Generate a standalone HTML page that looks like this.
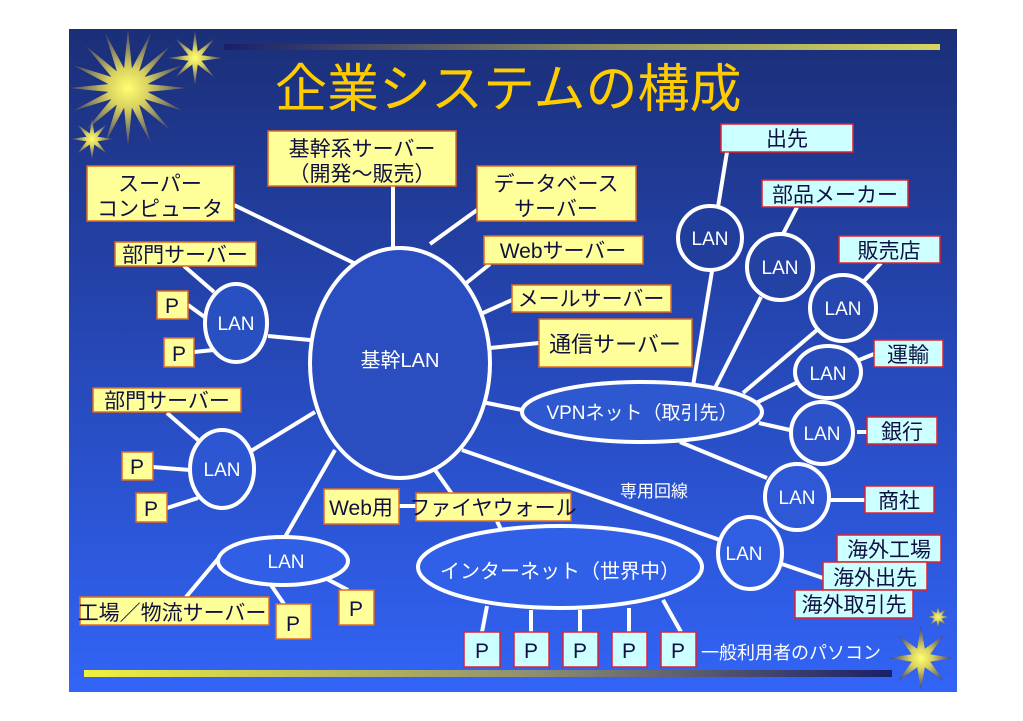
<!DOCTYPE html>
<html><head><meta charset="utf-8"><style>
html,body{margin:0;padding:0;background:#fff;}
svg{display:block;}
text{font-family:"Liberation Sans","Noto Sans CJK JP",sans-serif;}
</style></head><body>
<svg width="1023" height="721" viewBox="0 0 1023 721" xmlns="http://www.w3.org/2000/svg">
<defs>
<linearGradient id="bg" x1="0" y1="0" x2="0" y2="1">
<stop offset="0" stop-color="#1b2f78"/><stop offset="0.5" stop-color="#2648b8"/><stop offset="1" stop-color="#3264f6"/></linearGradient>
<linearGradient id="tb" x1="0" y1="0" x2="1" y2="0">
<stop offset="0" stop-color="#1a1f6a"/><stop offset="0.5" stop-color="#8a8a60"/><stop offset="1" stop-color="#d8d860"/></linearGradient>
<linearGradient id="bb" x1="0" y1="0" x2="1" y2="0">
<stop offset="0" stop-color="#f0f040"/><stop offset="0.55" stop-color="#909070"/><stop offset="1" stop-color="#1a1f6a"/></linearGradient>
<radialGradient id="st"><stop offset="0" stop-color="#ffff70"/><stop offset="0.35" stop-color="#d8d060"/><stop offset="1" stop-color="#3a3a68"/></radialGradient>
</defs>
<rect x="69" y="29" width="888" height="663" fill="url(#bg)"/>
<rect x="224" y="44" width="716" height="6" fill="url(#tb)"/>
<rect x="84" y="670" width="808" height="7" fill="url(#bb)"/>
<g id="stars"></g>
<text x="275" y="107" font-size="52" fill="#ffcc00">企業システムの構成</text>

<g stroke="#fff" stroke-width="4" fill="none">
<line x1="234" y1="205" x2="358" y2="265"/>
<line x1="393" y1="186" x2="393" y2="248"/>
<line x1="477" y1="210" x2="430" y2="244"/>
<line x1="490" y1="264" x2="465" y2="284"/>
<line x1="512" y1="300" x2="483" y2="313"/>
<line x1="539" y1="343" x2="490" y2="348"/>
<line x1="268" y1="336" x2="310" y2="340"/>
<line x1="251" y1="451" x2="315" y2="412"/>
<line x1="482" y1="402" x2="522" y2="410"/>
<line x1="335" y1="450" x2="285" y2="537"/>
<line x1="435" y1="470" x2="452" y2="494"/>
<line x1="462" y1="450" x2="720" y2="540"/>
<line x1="184" y1="266" x2="214" y2="292"/>
<line x1="188" y1="305" x2="206" y2="318"/>
<line x1="194" y1="352" x2="214" y2="350"/>
<line x1="167" y1="413" x2="198" y2="440"/>
<line x1="153" y1="467" x2="190" y2="470"/>
<line x1="167" y1="508" x2="198" y2="498"/>
<line x1="222" y1="554" x2="186" y2="597"/>
<line x1="271" y1="585" x2="284" y2="604"/>
<line x1="325" y1="578" x2="348" y2="590"/>
<line x1="398" y1="506" x2="416" y2="506"/>
<line x1="497" y1="521" x2="504" y2="536"/>
<line x1="487" y1="606" x2="482" y2="632"/>
<line x1="531" y1="610" x2="531" y2="632"/>
<line x1="580" y1="610" x2="580" y2="632"/>
<line x1="629" y1="608" x2="629" y2="632"/>
<line x1="663" y1="600" x2="681" y2="632"/>
<line x1="727" y1="152" x2="718" y2="207"/>
<line x1="712" y1="271" x2="693" y2="386"/>
<line x1="797" y1="207" x2="783" y2="234"/>
<line x1="761" y1="297" x2="715" y2="388"/>
<line x1="881" y1="263" x2="864" y2="281"/>
<line x1="817" y1="330" x2="743" y2="393"/>
<line x1="874" y1="354" x2="859" y2="360"/>
<line x1="796" y1="383" x2="756" y2="403"/>
<line x1="857" y1="432" x2="867" y2="432"/>
<line x1="759" y1="423" x2="790" y2="430"/>
<line x1="680" y1="442" x2="767" y2="478"/>
<line x1="829" y1="500" x2="865" y2="500"/>
<line x1="779" y1="563" x2="823" y2="578"/>
</g>

<g stroke="#fff" stroke-width="4" fill="#2850c0">
<ellipse cx="400" cy="363" rx="90" ry="115" fill="#2a4ec0"/>
<ellipse cx="642" cy="412" rx="120" ry="30" fill="#2e58d0"/>
<ellipse cx="236" cy="323" rx="31" ry="39"/>
<ellipse cx="222" cy="469" rx="32" ry="39" fill="#2d56d2"/>
<ellipse cx="283" cy="561" rx="65" ry="24" fill="#305ee4"/>
<ellipse cx="560" cy="567" rx="142" ry="41" fill="#3060e8"/>
<circle cx="710" cy="238" r="32" fill="#223e9c"/>
<circle cx="780" cy="267" r="33" fill="#2442a4"/>
<circle cx="843" cy="308" r="33" fill="#2646b0"/>
<ellipse cx="828" cy="372" rx="33" ry="26" fill="#284cbc"/>
<circle cx="822" cy="433" r="31" fill="#2b52c8"/>
<ellipse cx="797" cy="497" rx="32" ry="33" fill="#2e58d6"/>
<ellipse cx="750" cy="553" rx="32" ry="36" fill="#305ee2"/>
</g>

<g fill="#fff" font-size="19" text-anchor="middle">
<text x="400" y="367" font-size="20">基幹LAN</text>
<text x="642" y="419">VPNネット（取引先）</text>
<text x="236" y="330">LAN</text>
<text x="222" y="476">LAN</text>
<text x="286" y="568">LAN</text>
<text x="560" y="578" font-size="20">インターネット（世界中）</text>
<text x="710" y="245">LAN</text>
<text x="780" y="274">LAN</text>
<text x="843" y="315">LAN</text>
<text x="828" y="380">LAN</text>
<text x="822" y="440">LAN</text>
<text x="797" y="504">LAN</text>
<text x="744" y="560">LAN</text>
<text x="654" y="497" font-size="17">専用回線</text>
<text x="791" y="659" font-size="18">一般利用者のパソコン</text>
</g>

<g fill="#ffff99" stroke="#e06a20" stroke-width="1.5">
<rect x="268" y="131" width="188" height="55"/>
<rect x="87" y="166" width="147" height="55"/>
<rect x="477" y="166" width="159" height="55"/>
<rect x="484" y="236" width="159" height="28"/>
<rect x="512" y="285" width="159" height="27"/>
<rect x="539" y="319" width="153" height="48"/>
<rect x="115" y="242" width="141" height="24"/>
<rect x="157" y="291" width="31" height="28"/>
<rect x="164" y="338" width="30" height="29"/>
<rect x="93" y="388" width="148" height="24"/>
<rect x="122" y="452" width="31" height="28"/>
<rect x="136" y="493" width="31" height="29"/>
<rect x="80" y="597" width="189" height="28"/>
<rect x="276" y="604" width="35" height="35"/>
<rect x="339" y="590" width="35" height="35"/>
<rect x="324" y="489" width="75" height="35"/>
<rect x="416" y="493" width="155" height="28"/>
</g>
<g fill="#ccffff" stroke="#e02030" stroke-width="1.5">
<rect x="721" y="124" width="132" height="28"/>
<rect x="762" y="180" width="146" height="27"/>
<rect x="839" y="236" width="101" height="27"/>
<rect x="874" y="340" width="69" height="27"/>
<rect x="867" y="417" width="70" height="27"/>
<rect x="865" y="486" width="69" height="27"/>
<rect x="837" y="535" width="104" height="27"/>
<rect x="823" y="562" width="104" height="28"/>
<rect x="795" y="590" width="118" height="28"/>
<rect x="464" y="632" width="36" height="35"/>
<rect x="514" y="632" width="35" height="35"/>
<rect x="563" y="632" width="35" height="35"/>
<rect x="612" y="632" width="35" height="35"/>
<rect x="661" y="632" width="35" height="35"/>
</g>

<g fill="#101040" font-size="21" text-anchor="middle">
<text x="362" y="156">基幹系サーバー</text>
<text x="362" y="181">（開発～販売）</text>
<text x="160" y="191">スーパー</text>
<text x="160" y="216">コンピュータ</text>
<text x="556" y="191">データベース</text>
<text x="556" y="216">サーバー</text>
<text x="563" y="258">Webサーバー</text>
<text x="591" y="306">メールサーバー</text>
<text x="615" y="352" font-size="22">通信サーバー</text>
<text x="185" y="262">部門サーバー</text>
<text x="172" y="313">P</text>
<text x="179" y="361">P</text>
<text x="167" y="408">部門サーバー</text>
<text x="137" y="474">P</text>
<text x="151" y="516">P</text>
<text x="172" y="620">工場／物流サーバー</text>
<text x="293" y="631">P</text>
<text x="356" y="616">P</text>
<text x="361" y="515">Web用</text>
<text x="493" y="515">ファイヤウォール</text>
<text x="787" y="146">出先</text>
<text x="835" y="202">部品メーカー</text>
<text x="889" y="258">販売店</text>
<text x="908" y="362">運輸</text>
<text x="902" y="439">銀行</text>
<text x="899" y="508">商社</text>
<text x="889" y="557">海外工場</text>
<text x="875" y="585">海外出先</text>
<text x="854" y="612">海外取引先</text>
<text x="482" y="658">P</text>
<text x="531" y="658">P</text>
<text x="580" y="658">P</text>
<text x="629" y="658">P</text>
<text x="678" y="658">P</text>
</g>
</svg>
<script>
(function(){
 var ns="http://www.w3.org/2000/svg",g=document.getElementById("stars");
 function star(cx,cy,R,r,n){
  var p=[];for(var i=0;i<2*n;i++){var a=Math.PI*i/n-Math.PI/2,rr=i%2?r:R;p.push((cx+rr*Math.cos(a)).toFixed(1)+","+(cy+rr*Math.sin(a)).toFixed(1));}
  var e=document.createElementNS(ns,"polygon");e.setAttribute("points",p.join(" "));e.setAttribute("fill","url(#st)");g.appendChild(e);
 }
 star(128,88,60,20,16);star(195,58,28,7,8);star(92,139,21,6,8);star(921,658,32,10,8);star(938,617,12,4,8);
})();
</script>
</body></html>
